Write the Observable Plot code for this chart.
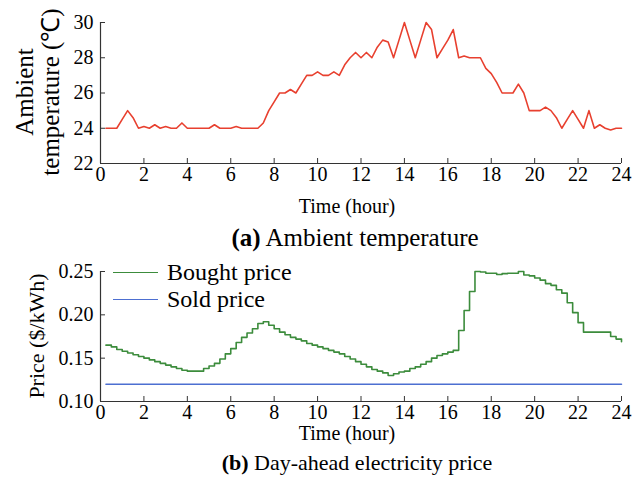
<!DOCTYPE html>
<html>
<head>
<meta charset="utf-8">
<script src="https://cdn.jsdelivr.net/npm/d3@7"></script>
<script src="https://cdn.jsdelivr.net/npm/@observablehq/plot@0.6"></script>
<style>
  body { margin: 0; background: #fff; }
  #fig { position: relative; width: 632px; height: 489px; font-family: "Liberation Serif", "Times New Roman", serif; color: #000; overflow: hidden; }
  .t { position: absolute; white-space: nowrap; font-size: 19px; line-height: 1; transform: translate(-50%, -50%); }
  .rot { transform: translate(-50%, -50%) rotate(-90deg); }
  .key { position: absolute; left: 113px; width: 45px; height: 0; border-top: 1.5px solid; }
  .keytext { position: absolute; left: 167px; font-size: 24px; line-height: 1; white-space: nowrap; transform: translateY(-50%); }
</style>
</head>
<body>
<div id="fig"></div>
<script>
// Quarter-hour time grid (0.25 h ... 24 h)
const hours = d3.range(1, 97).map(k => k * 0.25);

// Ambient temperature (°C) at each quarter hour
const temperature = [
  24.0, 24.0, 24.0, 24.5, 25.0, 24.6, 24.0, 24.1, 24.0, 24.2, 24.0, 24.1,
  24.0, 24.0, 24.3, 24.0, 24.0, 24.0, 24.0, 24.0, 24.2, 24.0, 24.0, 24.0,
  24.1, 24.0, 24.0, 24.0, 24.0, 24.3, 25.0, 25.5, 26.0, 26.0, 26.2, 26.0,
  26.5, 27.0, 27.0, 27.2, 27.0, 27.0, 27.2, 27.0, 27.6, 28.0, 28.3, 28.0,
  28.3, 28.0, 28.6, 29.0, 28.9, 28.0, 29.0, 30.0, 29.0, 28.0, 29.0, 30.0,
  29.6, 28.0, 28.5, 29.0, 29.6, 28.0, 28.1, 28.0, 28.0, 28.0, 27.4, 27.1,
  26.6, 26.0, 26.0, 26.0, 26.5, 26.0, 25.0, 25.0, 25.0, 25.2, 25.0, 24.6,
  24.0, 24.5, 25.0, 24.5, 24.0, 25.0, 24.0, 24.2, 24.0, 23.9, 24.0, 24.0
];

// Day-ahead bought price ($/kWh) at each quarter hour
const boughtPrice = [
  0.165, 0.163, 0.160, 0.158, 0.156, 0.154, 0.152, 0.150, 0.148, 0.146, 0.144, 0.142,
  0.140, 0.138, 0.136, 0.135, 0.135, 0.135, 0.138, 0.141, 0.144, 0.149, 0.155, 0.161,
  0.168, 0.174, 0.179, 0.184, 0.190, 0.192, 0.188, 0.184, 0.180, 0.177, 0.174, 0.172,
  0.170, 0.167, 0.165, 0.163, 0.161, 0.159, 0.157, 0.155, 0.152, 0.149, 0.146, 0.143,
  0.140, 0.137, 0.135, 0.133, 0.130, 0.132, 0.134, 0.135, 0.138, 0.140, 0.143, 0.146,
  0.150, 0.153, 0.155, 0.157, 0.159, 0.182, 0.205, 0.227, 0.250, 0.2495, 0.248, 0.248,
  0.2465, 0.2475, 0.248, 0.248, 0.250, 0.246, 0.245, 0.2425, 0.240, 0.236, 0.234, 0.229,
  0.225, 0.214, 0.2025, 0.191, 0.180, 0.180, 0.180, 0.180, 0.180, 0.175, 0.172, 0.169
];

// Sold price ($/kWh), flat over the day
const soldPrice = hours.map(() => 0.12);

// Axis ticks
const hourTicks = [0, 2, 4, 6, 8, 10, 12, 14, 16, 18, 20, 22, 24];
const tempTicks = [22, 24, 26, 28, 30];
const priceTicks = [0.10, 0.15, 0.20, 0.25];

const FONT = "Liberation Serif, Times New Roman, serif";
const AXIS = "#333";

function axes(yTicks, yFormat, yMin) {
  return [
    Plot.ruleX([0], {stroke: AXIS, strokeWidth: 1.2}),
    Plot.ruleY([yMin], {stroke: AXIS, strokeWidth: 1.2}),
    // inward tick marks
    Plot.axisX(hourTicks, {tickSize: 5, dy: -5, tickFormat: () => "", stroke: AXIS, label: null}),
    Plot.axisY(yTicks, {tickSize: 5, dx: 5, tickFormat: () => "", stroke: AXIS, label: null}),
    // tick labels
    Plot.axisX(hourTicks, {tickSize: 0, tickPadding: 3, label: null, fill: "#000"}),
    Plot.axisY(yTicks, {tickSize: 0, tickPadding: 7, tickFormat: yFormat, label: null, fill: "#000"})
  ];
}

const common = {
  width: 632,
  marginLeft: 100,
  marginRight: 11,
  style: {fontFamily: FONT, fontSize: "20px", color: "#000", background: "none", overflow: "visible"},
  x: {domain: [0, 24]}
};

// (a) Ambient temperature
const chartA = Plot.plot({
  ...common,
  height: 190,
  marginTop: 22,
  marginBottom: 27,
  y: {domain: [22, 30]},
  marks: [
    ...axes(tempTicks, d => String(d), 22),
    Plot.line(hours, {x: d => d, y: (d, i) => temperature[i], stroke: "#e8402f", strokeWidth: 1.6})
  ]
});

// (b) Day-ahead electricity price
const chartB = Plot.plot({
  ...common,
  height: 176,
  marginTop: 21,
  marginBottom: 25,
  y: {domain: [0.10, 0.25]},
  marks: [
    ...axes(priceTicks, d => d.toFixed(2), 0.10),
    Plot.line(hours, {x: d => d, y: (d, i) => soldPrice[i], stroke: "#4d6fd1", strokeWidth: 1.5}),
    Plot.line(hours, {x: d => d, y: (d, i) => boughtPrice[i], curve: "step-after", stroke: "#3c8c3c", strokeWidth: 1.6})
  ]
});

const fig = document.getElementById("fig");
for (const [svg, top] of [[chartA, 0], [chartB, 250]]) {
  svg.style.position = "absolute";
  svg.style.left = "0px";
  svg.style.top = top + "px";
  svg.style.maxWidth = "none";
  fig.append(svg);
}

function label(html, x, y, size, cls = "t") {
  const d = document.createElement("div");
  d.className = cls;
  d.style.left = x + "px";
  d.style.top = y + "px";
  if (size) d.style.fontSize = size + "px";
  d.innerHTML = html;
  fig.append(d);
  return d;
}

// axis titles and captions
label("Time (hour)", 347, 206, 20);
label("<b>(a)</b> Ambient temperature", 355, 237, 25);
label("Ambient", 24, 92, 25, "t rot");
label("temperature (℃)", 50, 92, 25, "t rot");

label("Time (hour)", 347, 433, 20);
label("<b>(b)</b> Day-ahead electricity price", 357, 463, 22);
label("Price ($/kWh)", 37, 336, 22, "t rot");

// legend
const k1 = document.createElement("div");
k1.className = "key"; k1.style.top = "272px"; k1.style.borderColor = "#3c8c3c";
const k2 = document.createElement("div");
k2.className = "key"; k2.style.top = "299px"; k2.style.borderColor = "#4d6fd1";
fig.append(k1, k2);
label("Bought price", 167, 272, 0, "keytext");
label("Sold price", 167, 299, 0, "keytext");
</script>
</body>
</html>
